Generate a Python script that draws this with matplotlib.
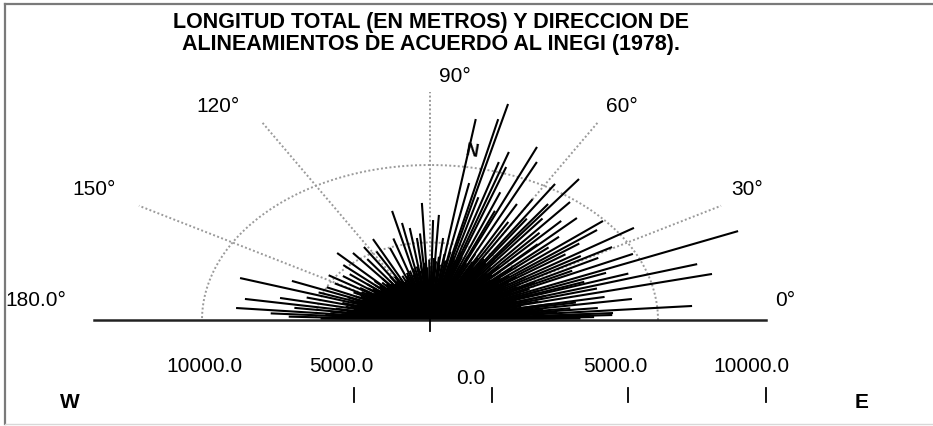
import numpy as np
import matplotlib
matplotlib.use("Agg")
import matplotlib.pyplot as plt
from matplotlib.collections import LineCollection
from matplotlib.lines import Line2D


# ==============================
# DATA
# ==============================

TITLE_1 = "LONGITUD TOTAL (EN METROS) Y DIRECCION DE"
TITLE_2 = "ALINEAMIENTOS DE ACUERDO AL INEGI (1978)."

# long / medium alignments: direction (deg, 0 = E, 90 = N) and length (m)
LONG_ANGLES = [
    76.2, 81.2, 77.0, 72.3, 67.2, 65.3, 73.5, 71.3, 58.0, 54.3,
    55.3, 51.1, 45.6, 40.1, 33.6, 23.0, 17.1, 13.5, 25.6, 8.7,
    4.5, 3.2, 38.4, 30.5, 162.0, 170.5, 174.8, 157.4, 167.8, 133.3,
    128.0, 115.6, 103.3, 101.1, 92.7, 121.6, 143.4, 110.7, 86.7, 88.8,
    96.2, 83.8,
    79.0, 75.0, 69.5, 68.0, 63.0, 61.5, 60.0, 57.0, 53.0, 49.5,
    48.0, 46.0, 43.5, 42.0, 37.0, 35.5, 32.0, 28.5, 27.0, 21.5,
    20.0, 19.0, 15.5, 11.0, 10.0, 7.0, 6.0, 2.5, 1.8, 1.0,
    1.5, 2.3, 0.8, 3.0,
    176.5, 178.0, 172.5, 165.0, 160.0, 155.0, 150.5, 147.0, 140.0, 137.0,
    125.0, 118.0, 107.0, 98.5, 94.5,
]
LONG_LENGTHS = [
    14350, 13120, 13300, 11380, 12110, 11220, 10630, 10420, 10350, 11200,
    9100, 9780, 9210, 9920, 10740, 14680, 12260, 12720, 9870, 8960,
    11530, 8040, 9350, 9270, 8760, 8230, 8540, 6560, 6730, 5940,
    5490, 5790, 7230, 6380, 7560, 5530, 4760, 4970, 6790, 6450,
    5320, 5320,
    9000, 8200, 8800, 7600, 8400, 7200, 9000, 7800, 8200, 7400,
    8600, 6800, 7800, 7000, 8200, 7300, 7800, 8400, 7000, 8300,
    7200, 9200, 7600, 7800, 6500, 6200, 7400, 6000, 7000, 5500,
    7200, 8000, 6600, 6900,
    7000, 6200, 6000, 5600, 5200, 5000, 4800, 5300, 4600, 5200,
    4800, 5000, 5500, 6000, 5600,
]

# short alignments forming the dense core
SHORT_ANGLES = [
    0.5, 2, 3.5, 5, 6.5, 8, 9.5, 11, 12.5, 14, 15.5, 17, 18.5, 20, 21.5,
    23, 24.5, 26, 27.5, 29, 30.5, 32, 33.5, 35, 36.5, 38, 39.5, 41, 42.5,
    44, 45.5, 47, 48.5, 50, 51.5, 53, 54.5, 56, 57.5, 59, 60.5, 62, 63.5,
    65, 66.5, 68, 69.5, 71, 72.5, 74, 75.5, 77, 78.5, 80, 81.5, 83, 84.5,
    86, 87.5, 89, 90.5, 92, 93.5, 95, 96.5, 98, 99.5, 101, 102.5, 104,
    105.5, 107, 108.5, 110, 111.5, 113, 114.5, 116, 117.5, 119, 120.5,
    122, 123.5, 125, 126.5, 128, 129.5, 131, 132.5, 134, 135.5, 137,
    138.5, 140, 141.5, 143, 144.5, 146, 147.5, 149, 150.5, 152, 153.5,
    155, 156.5, 158, 159.5, 161, 162.5, 164, 165.5, 167, 168.5, 170,
    171.5, 173, 174.5, 176, 177.5, 179,
]
SHORT_LENGTHS = [
    4800, 5200, 4400, 5600, 4200, 5000, 4600, 5400, 4100, 4900, 4500, 5300, 4000, 4700, 5100,
    4300, 4800, 4000, 5200, 4400, 4600, 3900, 5000, 4200, 4700, 3800, 4500, 4100, 4900,
    3700, 4400, 4000, 4600, 3900, 4300, 4800, 3800, 4400, 4100, 4600, 3900, 4500, 4200,
    4700, 4000, 4400, 3800, 4300, 4600, 4000, 4200, 3700, 4500, 3900, 4300, 3600, 4100,
    3800, 4000, 3500, 3900, 3400, 3700, 3300, 3600, 3200, 3500, 3100, 3400, 3000,
    3300, 2900, 3200, 3000, 2800, 3100, 2700, 3000, 2800, 3200, 2900,
    3300, 2800, 3100, 2900, 3400, 3000, 3200, 2800, 3500, 3100, 3300,
    2900, 3600, 3200, 3400, 3000, 3700, 3300, 3500, 3100, 3800, 3400,
    3600, 3200, 3900, 3500, 3700, 3300, 4000, 3600, 3800, 3400, 4200,
    3700, 4400, 3900, 4600, 4100, 4800,
]

GRID_ANGLES = [30, 60, 90, 120, 150]
GRID_RADII = [5000, 10000]
GRID_LENGTH = 14740

ANGLE_LABELS = ["180.0°", "150°", "120°", "90°", "60°", "30°", "0°"]
SCALE_LABELS = ["10000.0", "5000.0", "0.0", "5000.0", "10000.0"]


# ==============================
# LAYOUT (pixels of the 933x426 picture)
# ==============================

W, H = 933, 426
CX, CY = 430, 320          # centre of the rose
SX, SY = 0.0228, 0.0155    # px per metre, horizontal / vertical

ANGLE_LABEL_POS = [(36, 300), (94, 189), (218, 107), (455, 76),
                   (622, 106), (747, 189), (785, 300)]
SCALE_LABEL_POS = [(204, 366), (341, 366), (471, 379), (615, 366), (751, 366)]
SCALE_TICKS_X = [354, 492, 628, 766]

GRID_COLOR = "#9a9a9a"
FONT = ["Liberation Sans", "DejaVu Sans"]


def fx(x):
    return x / W


def fy(y):
    return 1 - y / H


def segments(angles, lengths):
    a = np.radians(np.array(angles, dtype=float))
    r = np.array(lengths, dtype=float)
    return [[(0, 0), (ri * np.cos(ai), ri * np.sin(ai))] for ai, ri in zip(a, r)]


def main():
    plt.rcParams["font.family"] = FONT

    fig = plt.figure(figsize=(W / 100, H / 100), dpi=100)
    ax = fig.add_axes([0, 0, 1, 1])
    ax.set_xlim(-CX / SX, (W - CX) / SX)
    ax.set_ylim(-(H - CY) / SY, CY / SY)
    ax.axis("off")

    # dotted grid: radial lines and half ellipses
    for g in GRID_ANGLES:
        t = np.radians(g)
        ax.plot([0, GRID_LENGTH * np.cos(t)], [0, GRID_LENGTH * np.sin(t)],
                color=GRID_COLOR, lw=1.4, ls=(0, (1, 1.2)), zorder=1)
    t = np.linspace(0, np.pi, 300)
    for r in GRID_RADII:
        ax.plot(r * np.cos(t), r * np.sin(t), color=GRID_COLOR, lw=1.4,
                ls=(0, (1, 1.2)), zorder=1)

    # alignments
    ax.add_collection(LineCollection(segments(SHORT_ANGLES, SHORT_LENGTHS),
                                     colors="black", linewidths=1.5, zorder=2))
    ax.add_collection(LineCollection(segments(LONG_ANGLES, LONG_LENGTHS),
                                     colors="black", linewidths=1.5, zorder=3))

    # base line and centre tick
    ax.plot([-GRID_LENGTH, GRID_LENGTH], [0, 0], color="#222222", lw=1.8, zorder=4)
    fig.add_artist(Line2D([fx(CX), fx(CX)], [fy(CY), fy(331)], color="black", lw=1.3))

    # texts
    fig.text(fx(431), fy(28), TITLE_1, ha="center", va="baseline",
             fontsize=15.5, fontweight="bold")
    fig.text(fx(431), fy(50), TITLE_2, ha="center", va="baseline",
             fontsize=15.5, fontweight="bold")

    for s, (x, y) in zip(ANGLE_LABELS, ANGLE_LABEL_POS):
        fig.text(fx(x), fy(y), s, ha="center", va="center", fontsize=15)

    for s, (x, y) in zip(SCALE_LABELS, SCALE_LABEL_POS):
        fig.text(fx(x), fy(y), s, ha="center", va="center", fontsize=15)

    for x in SCALE_TICKS_X:
        fig.add_artist(Line2D([fx(x), fx(x)], [fy(388), fy(402)], color="black", lw=1.3))

    fig.text(fx(70), fy(403), "W", ha="center", va="center", fontsize=15, fontweight="bold")
    fig.text(fx(862), fy(403), "E", ha="center", va="center", fontsize=15, fontweight="bold")
    fig.text(fx(472), fy(152), "N", ha="center", va="center", fontsize=13,
             fontweight="bold", rotation=-10, zorder=5)

    # picture frame
    fig.add_artist(Line2D([fx(5), 1], [fy(4), fy(4)], color="#7a7a7a", lw=1.6))
    fig.add_artist(Line2D([fx(5), fx(5)], [fy(4), fy(424)], color="#7a7a7a", lw=1.6))
    fig.add_artist(Line2D([fx(5), 1], [fy(424), fy(424)], color="#d8d8d8", lw=1.0))

    fig.savefig("out.png", dpi=100)


if __name__ == "__main__":
    main()
